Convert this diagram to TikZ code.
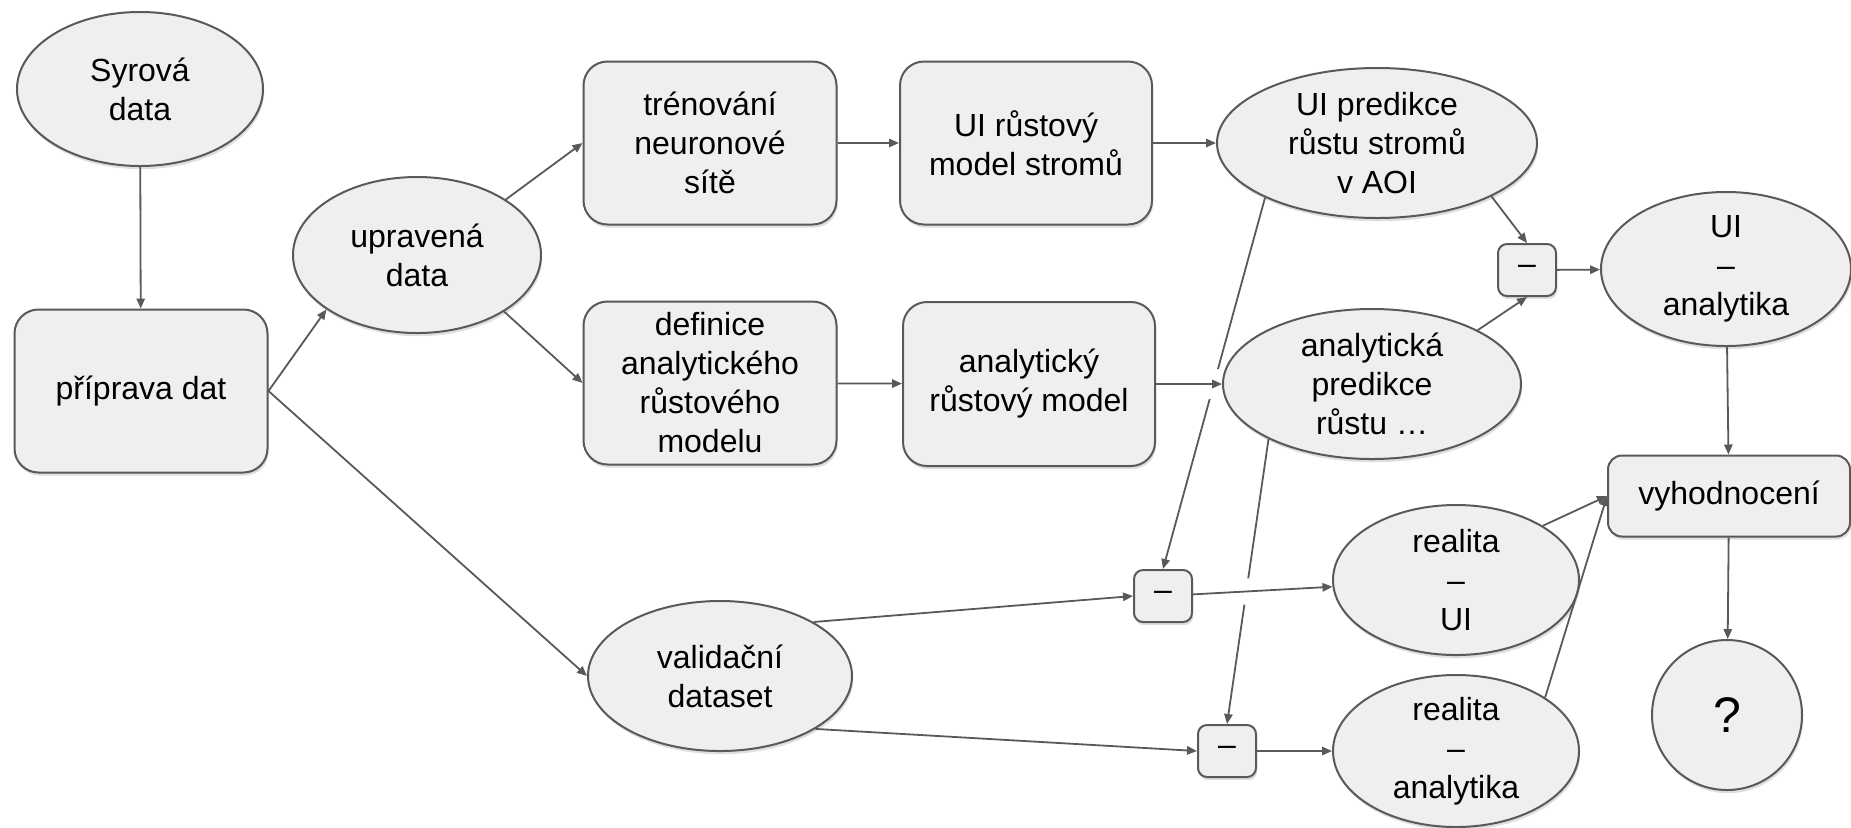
\documentclass[tikz,border=0pt]{standalone}
\usepackage{fontspec}
\setmainfont{Liberation Sans}
\usetikzlibrary{shapes.geometric,arrows.meta,shadows}
\definecolor{nfill}{HTML}{EFEFEF}
\definecolor{ncol}{HTML}{595959}
\tikzset{
  base/.style={draw=ncol, fill=nfill, line width=1pt, align=center,
    font=\fontsize{16}{19.5}\selectfont,
    drop shadow={shadow xshift=0.6pt, shadow yshift=-1.6pt, opacity=0.25, fill=black!50}},
  oval/.style={base, ellipse, inner sep=-10pt},
  roundbox/.style={base, rectangle, rounded corners=12pt, inner sep=0pt},
  minusbox/.style={base, rectangle, rounded corners=4.5pt, inner sep=0pt,
    minimum width=29pt, minimum height=26pt},
  arr/.style={draw=ncol, line width=0.9pt, -{Triangle[length=5pt,width=4.2pt]}},
  gapband/.style={draw=white, line width=14pt, shorten <=1.5pt, shorten >=1.5pt},
}
\begin{document}
\begin{tikzpicture}[x=0.5pt, y=-0.5pt]
\useasboundingbox (0,0) rectangle (1851,827);

% nodes
\node[oval, minimum width=123pt, minimum height=77pt] (raw) at (140,89) {Syrová\\data};
\node[roundbox, minimum width=126.5pt, minimum height=81.5pt] (prep) at (141,391) {příprava dat};
\node[oval, minimum width=124pt, minimum height=78pt] (upr) at (417,255) {upravená\\data};
\node[roundbox, minimum width=126.5pt, minimum height=81.5pt] (trn) at (710,143) {trénování\\neuronové\\sítě};
\node[roundbox, minimum width=126pt, minimum height=81.5pt] (uim) at (1026,143) {UI růstový\\model stromů};
\node[oval, minimum width=160pt, minimum height=75pt] (uip) at (1377,143) {UI predikce\\růstu stromů\\v AOI};
\node[roundbox, minimum width=126.5pt, minimum height=81.5pt] (def) at (710,383) {definice\\analytického\\růstového\\modelu};
\node[roundbox, minimum width=126pt, minimum height=82pt] (anm) at (1029,384) {analytický\\růstový model};
\node[oval, minimum width=149pt, minimum height=75pt] (anp) at (1372,384) {analytická\\predikce\\růstu …};
\node[minusbox] (m1) at (1527,270) {–};
\node[oval, minimum width=125pt, minimum height=77pt] (uia) at (1726,269) {UI\\–\\analytika};
\node[roundbox, rounded corners=7pt, minimum width=121pt, minimum height=40.5pt] (vyh) at (1729,496) {vyhodnocení};
\node[oval, minimum width=75pt, minimum height=75pt, font=\fontsize{25}{30}\selectfont] (q) at (1727,715) {?};
\node[oval, minimum width=123pt, minimum height=75pt] (rui) at (1456,580) {realita\\–\\UI};
\node[oval, minimum width=123pt, minimum height=76pt] (rua) at (1456,751) {realita\\–\\analytika};
\node[minusbox] (m2) at (1163,596) {–};
\node[minusbox] (m3) at (1227,751) {–};
\node[oval, minimum width=132pt, minimum height=75pt] (val) at (720,676) {validační\\dataset};

% connectors that are crossed
\draw[arr] (uip.206) -- (m2.north);
\draw[arr] (anp.208) -- (m3.north);

% white gaps where lines cross
\draw[gapband, line width=15pt] (anm) -- (anp);
\draw[gapband, line width=13pt] (m2) -- (rui);

% connectors
\draw[arr] (raw) -- (prep);
\draw[arr] (prep.east) -- (upr.211);
\draw[arr] (prep.east) -- (val.west);
\draw[arr] (upr.32) -- (trn.west);
\draw[arr] (upr.-33) -- (def.west);
\draw[arr] (trn) -- (uim);
\draw[arr] (uim) -- (uip);
\draw[arr] (def) -- (anm);
\draw[arr] (anm) -- (anp);
\draw[arr] (uip.-25) -- (m1.north);
\draw[arr] (anp.27) -- (m1.south);
\draw[arr] (m1) -- (uia);
\draw[arr] (uia) -- (vyh);
\draw[arr] (vyh) -- (q);
\draw[arr] (val.30) -- (m2.west);
\draw[arr] (val.-29) -- (m3.west);
\draw[arr] (m2) -- (rui);
\draw[arr] (m3) -- (rua);
\draw[arr] (rui.32) -- (vyh.west);
\draw[arr] (rua.31) -- (vyh.west);
\end{tikzpicture}
\end{document}
